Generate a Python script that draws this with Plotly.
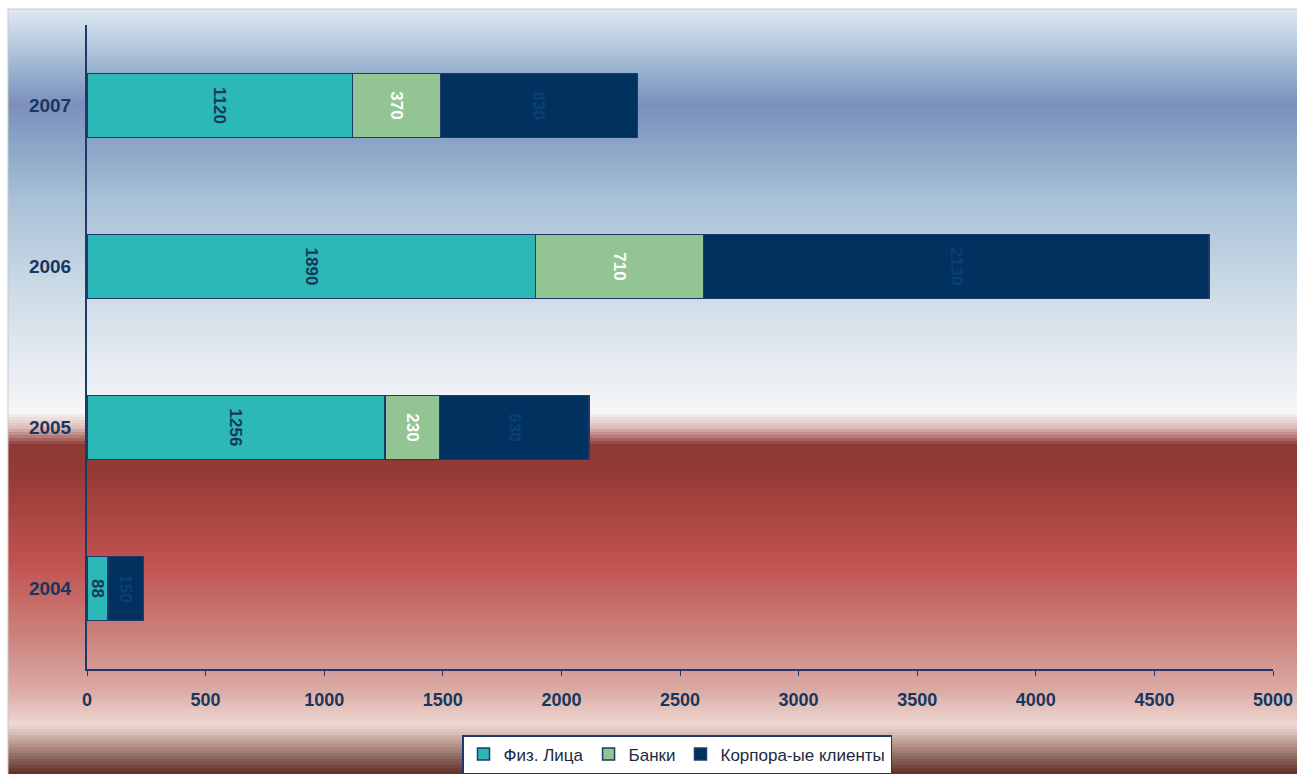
import plotly.graph_objects as go

# ---- data ----
years = ["2004", "2005", "2006", "2007"]
fiz = [88, 1256, 1890, 1120]
banks = [0, 230, 710, 370]
corp = [150, 630, 2130, 830]
series_names = ["Физ. Лица", "Банки", "Корпора-ые клиенты"]
x_ticks = [0, 500, 1000, 1500, 2000, 2500, 3000, 3500, 4000, 4500, 5000]

W, H = 1297, 774
L, R, T, B = 87, 24, 25, 105
PW, PH = W - L - R, H - T - B

def px2paper_x(px):
    return (px - L) / PW

def py2paper_y(py):
    return (H - B - py) / PH

# background gradient stops (pixel y, colour)
stops = [(9, "#dfe9f3"), (40, "#bccfe2"), (70, "#98b2cf"), (105, "#7b8fbd"),
         (140, "#88a3c5"), (200, "#a8c1d7"), (300, "#d0dde8"), (390, "#eef1f5"),
         (412, "#f7f7f9"), (428, "#dcbab8"), (445, "#8e3a34"), (470, "#933a35"),
         (560, "#c0514e"), (640, "#cc8580"), (690, "#dbaaa4"), (725, "#eed8d2"),
         (735, "#d2b8b0"), (755, "#957068"), (774, "#5f2d22")]

def hex2rgb(h):
    h = h.lstrip("#")
    return tuple(int(h[i:i + 2], 16) for i in (0, 2, 4))

def colour_at(py):
    for (y0, c0), (y1, c1) in zip(stops[:-1], stops[1:]):
        if y0 <= py <= y1:
            t = (py - y0) / (y1 - y0) if y1 > y0 else 0
            a, b = hex2rgb(c0), hex2rgb(c1)
            return "rgb(%d,%d,%d)" % tuple(round(a[i] + (b[i] - a[i]) * t) for i in range(3))
    return stops[-1][1]

shapes = []
step = 3
py = 9
while py < H + 4:
    shapes.append(dict(type="rect", xref="paper", yref="paper", layer="below",
                       x0=px2paper_x(8), x1=px2paper_x(W + 8),
                       y0=py2paper_y(py + step + 0.6), y1=py2paper_y(py),
                       line=dict(width=0), fillcolor=colour_at(py + step / 2)))
    py += step
shapes.append(dict(type="line", xref="paper", yref="paper", layer="below",
                   x0=px2paper_x(8), x1=px2paper_x(W + 8), y0=py2paper_y(9), y1=py2paper_y(9),
                   line=dict(color="#c8c8c8", width=1)))
shapes.append(dict(type="line", xref="paper", yref="paper", layer="below",
                   x0=px2paper_x(8), x1=px2paper_x(8), y0=py2paper_y(9), y1=py2paper_y(H + 8),
                   line=dict(color="#c8c8c8", width=1)))

outline = dict(color="#1f3a6a", width=1.5)
lbl = dict(family="Arial", size=17, weight="bold")
fig = go.Figure()
fig.add_trace(go.Bar(y=years, x=fiz, name=series_names[0], orientation="h",
                     marker=dict(color="#2db8b8", line=outline),
                     text=[str(v) for v in fiz], textposition="inside", textangle=90,
                     insidetextanchor="middle",
                     textfont=dict(lbl, color="#17375e")))
fig.add_trace(go.Bar(y=years, x=banks, name=series_names[1], orientation="h",
                     marker=dict(color="#93c493", line=outline),
                     text=[str(v) for v in banks], textposition="inside", textangle=90,
                     insidetextanchor="middle",
                     textfont=dict(lbl, color="white")))
fig.add_trace(go.Bar(y=years, x=corp, name=series_names[2], orientation="h",
                     marker=dict(color="#00315f", line=outline),
                     text=[str(v) for v in corp], textposition="inside", textangle=90,
                     insidetextanchor="middle",
                     textfont=dict(lbl, color="#0a4076")))

annotations = []
for i, v in enumerate(banks):
    if v == 0:
        annotations.append(dict(x=fiz[i] + banks[i], y=years[i], xref="x", yref="y",
                                text="<b>%d</b>" % v, showarrow=False, textangle=90,
                                font=dict(family="Arial", size=17, color="white")))

fig.update_layout(
    autosize=True,
    margin=dict(l=L, r=R, t=T, b=B),
    paper_bgcolor="white", plot_bgcolor="rgba(0,0,0,0)",
    barmode="stack", bargap=0.6,
    shapes=shapes, annotations=annotations,
    font=dict(family="Arial", color="#17375e"),
    uniformtext=dict(minsize=17, mode="show"),
    legend=dict(orientation="h", xref="container", yref="container",
                x=677 / W, xanchor="center", y=1 - 735 / H, yanchor="top",
                bgcolor="white", bordercolor="#1f3a6a", borderwidth=1.5,
                font=dict(family="Arial", size=17, color="#1b2a40"),
                itemwidth=30, tracegroupgap=0, traceorder="normal"),
    showlegend=True,
)
fig.update_xaxes(range=[0, 5000], tickvals=x_ticks, ticktext=[str(v) for v in x_ticks],
                 showgrid=False, zeroline=False, showline=True, linecolor="#1f3a6a",
                 linewidth=2, ticks="outside", ticklen=5, tickcolor="#1f3a6a",
                 tickfont=dict(family="Arial", size=18, weight="bold", color="#17375e"),
                 ticklabelstandoff=8, automargin=False, ticklabeloverflow="allow")
fig.update_yaxes(categoryorder="array", categoryarray=years, range=[-0.5, 3.5],
                 showgrid=False, zeroline=False, showline=True, linecolor="#1f3a6a",
                 linewidth=2, ticks="",
                 tickfont=dict(family="Arial", size=19, weight="bold", color="#17375e"),
                 ticklabelstandoff=10, automargin=False)

fig.write_html("out.html", config={"displayModeBar": False, "responsive": True},
               default_width="100vw", default_height="100vh",
               post_script="document.body.style.margin='0';document.body.style.padding='0';"
                           "document.documentElement.style.overflow='hidden';"
                           "document.body.style.overflow='hidden';"
                           "var gd=document.getElementById('{plot_id}');Plotly.Plots.resize(gd);")
